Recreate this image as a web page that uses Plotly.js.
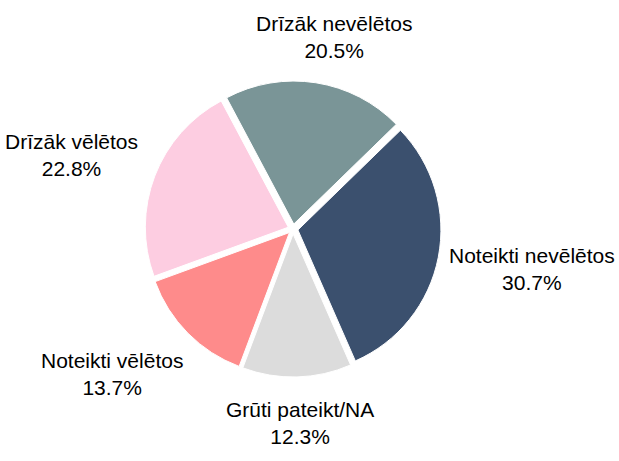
<!DOCTYPE html>
<html>
<head>
<meta charset="utf-8">
<script src="https://cdn.plot.ly/plotly-3.0.1.min.js"></script>
<style>html,body{margin:0;padding:0;background:#fff;}#chart{width:619px;height:461px;}</style>
</head>
<body>
<div id="chart"></div>
<script>
// ---- data ----
var categories = ['Drīzāk nevēlētos', 'Noteikti nevēlētos', 'Grūti pateikt/NA', 'Noteikti vēlētos', 'Drīzāk vēlētos'];
var shares = [20.5, 30.7, 12.3, 13.7, 22.8];
var colors = ['#7a9597', '#3b506e', '#dcdcdc', '#fe8b8b', '#fdcde1'];

// ---- layout constants ----
var W = 619, H = 461;
var CX = 293, CY = 229;      // pie centre (px)
var R = 143;                 // pie radius (px)
var PULL = 0.035;
var ROT = -28;               // start angle (deg clockwise from 12 o'clock)
var FONT = 'Liberation Sans, Arial, sans-serif';
var FS = 21;
var LABEL_GAP = 18;

var half = R * (1 + PULL);
var domX = [(CX - half) / W, (CX + half) / W];
var domY = [1 - (CY + half) / H, 1 - (CY - half) / H];

function clamp1(v) { return Math.max(-1, Math.min(1, v)); }

// label positions derived from the slice angles
var total = shares.reduce(function (a, b) { return a + b; }, 0);
var canvas = document.createElement('canvas');
var ctx = canvas.getContext('2d');
ctx.font = FS + 'px "Liberation Sans"';
var annotations = [];
var cum = 0;
for (var i = 0; i < categories.length; i++) {
  var mid = ROT + (cum + shares[i] / 2) / total * 360;
  cum += shares[i];
  var a = mid * Math.PI / 180;
  var dx = Math.sin(a), dy = -Math.cos(a);
  var hw = ctx.measureText(categories[i]).width / 2;
  var hh = FS * 1.35;
  var rr = R * (1 + PULL) + LABEL_GAP;
  var px = CX + dx * rr + clamp1(dx / 0.8) * hw;
  var py = CY + dy * rr + clamp1(dy / 0.7) * hh;
  px = Math.max(hw + 4, Math.min(W - hw - 4, px));
  annotations.push({
    x: px / W, y: 1 - py / H, xref: 'paper', yref: 'paper',
    xanchor: 'center', yanchor: 'middle', showarrow: false,
    text: categories[i] + '<br>' + shares[i].toFixed(1) + '%',
    font: {family: FONT, size: FS, color: '#000'}
  });
}

var trace = {
  type: 'pie',
  labels: categories,
  values: shares,
  sort: false,
  direction: 'clockwise',
  rotation: ROT,
  pull: PULL,
  marker: {colors: colors, line: {color: '#ffffff', width: 1}},
  textinfo: 'none',
  hoverinfo: 'label+percent',
  domain: {x: domX, y: domY}
};

var layout = {
  width: W, height: H,
  margin: {l: 0, r: 0, t: 0, b: 0},
  showlegend: false,
  paper_bgcolor: '#ffffff',
  font: {family: FONT, size: FS, color: '#000'},
  annotations: annotations
};

Plotly.newPlot('chart', [trace], layout, {displayModeBar: false, staticPlot: true});
</script>
</body>
</html>
